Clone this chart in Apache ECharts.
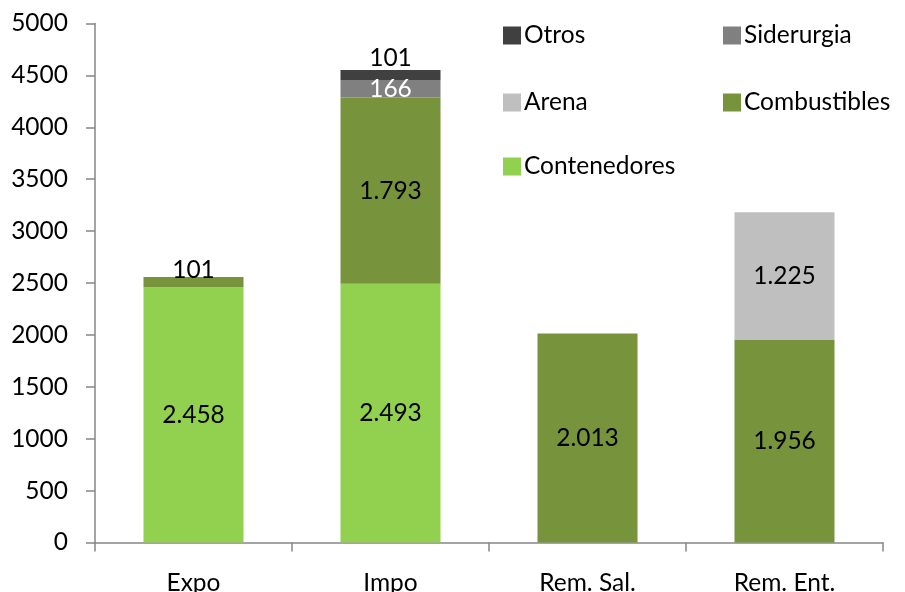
<!DOCTYPE html>
<html><head><meta charset="utf-8">
<script src="https://cdn.jsdelivr.net/npm/echarts@6/dist/echarts.min.js"></script>
<style>html,body{margin:0;padding:0;background:#fff}#c{width:905px;height:592px}</style>
</head><body><div id="c"></div>
<script>
const categories = ['Expo', 'Impo', 'Rem. Sal.', 'Rem. Ent.'];
const contenedores = [2458, 2493, null, null];
const combustibles = [101, 1793, 2013, 1956];
const arena = [null, null, null, 1225];
const siderurgia = [null, 166, null, null];
const otros = [null, 101, null, null];
const yTicks = [0, 500, 1000, 1500, 2000, 2500, 3000, 3500, 4000, 4500, 5000];

const FONT = 'Lato';
const FS = 24.5;
function fmt(v) {
  return String(v).replace(/\B(?=(\d{3})+(?!\d))/g, '.');
}
function lbl(extra) {
  return Object.assign({
    show: true, position: 'inside', color: '#000', fontFamily: FONT, fontSize: FS,
    formatter: p => (p.value == null ? '' : fmt(p.value))
  }, extra || {});
}
const chart = echarts.init(document.getElementById('c'));
const legendPos = [
  ['Otros', 498, 18], ['Siderurgia', 718, 18],
  ['Arena', 498, 85], ['Combustibles', 718, 85],
  ['Contenedores', 498, 149]
];
chart.setOption({
  animation: false,
  grid: { left: 95, right: 22, top: 23.5, bottom: 49.5, containLabel: false, outerBoundsMode: 'none' },
  legend: legendPos.map(([n, x, y]) => ({
    data: [n], left: x, top: y, itemWidth: 18, itemHeight: 18, itemGap: 6,
    icon: 'rect', selectedMode: false,
    textStyle: { fontFamily: FONT, fontSize: FS, color: '#000', padding: [0, 0, 0, -2] }
  })),
  xAxis: {
    type: 'category', data: categories,
    axisLine: { lineStyle: { color: '#868686', width: 1.5 } },
    axisTick: { show: true, length: 9, lineStyle: { color: '#868686', width: 1.5 } },
    axisLabel: { fontFamily: FONT, fontSize: FS, color: '#000', margin: 28 }
  },
  yAxis: {
    type: 'value', min: yTicks[0], max: yTicks[yTicks.length - 1], interval: 500,
    axisLine: { show: true, lineStyle: { color: '#868686', width: 1.5 } },
    axisTick: { show: true, length: 9, lineStyle: { color: '#868686', width: 1.5 } },
    splitLine: { show: false },
    axisLabel: { fontFamily: FONT, fontSize: FS, color: '#000', margin: 27,
      formatter: v => String(v) }
  },
  series: [
    { name: 'Contenedores', type: 'bar', stack: 's', data: contenedores, barWidth: 100,
      itemStyle: { color: '#92D050' }, label: lbl() },
    { name: 'Combustibles', type: 'bar', stack: 's',
      data: combustibles.map((v, i) => i === 0
        ? { value: v, label: { position: 'top', distance: -6 } } : v),
      barWidth: 100, itemStyle: { color: '#77933C' }, label: lbl() },
    { name: 'Arena', type: 'bar', stack: 's', data: arena, barWidth: 100,
      itemStyle: { color: '#BFBFBF' }, label: lbl() },
    { name: 'Siderurgia', type: 'bar', stack: 's', data: siderurgia, barWidth: 100,
      itemStyle: { color: '#808080' }, label: lbl({ color: '#fff' }) },
    { name: 'Otros', type: 'bar', stack: 's', data: otros, barWidth: 100,
      itemStyle: { color: '#404040' }, label: lbl({ position: 'top', distance: -1 }) }
  ]
});
</script></body></html>
